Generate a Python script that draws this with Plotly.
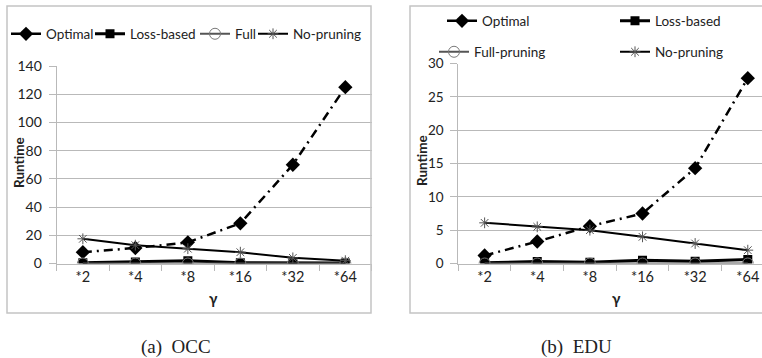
import plotly.graph_objects as go

categories = ["*2", "*4", "*8", "*16", "*32", "*64"]

occ_optimal = [8, 11, 15, 28.5, 70, 125]
occ_loss = [0.5, 1, 2, 0.5, 0.4, 0.3]
occ_full = [0, 0, 0, 0, 0, 0]
occ_nopruning = [17.5, 13, 10.5, 8, 4, 2]

edu_optimal = [1.2, 3.3, 5.6, 7.5, 14.3, 27.8]
edu_loss = [0.1, 0.3, 0.2, 0.5, 0.35, 0.6]
edu_full = [0, 0, 0, 0, 0, 0]
edu_nopruning = [6.1, 5.5, 5.0, 4.0, 3.0, 2.0]

W, H = 762, 358
FONT = "Lato"
GRID = "#b9b9b9"
TXT = "#222222"


def px(x):
    return x / W


def py(y):
    return (H - y) / H


def series_styles(full_name):
    return [
        ("Optimal", dict(color="black", width=2.5, dash="9px,5px,2px,5px"),
         dict(symbol="diamond", size=11, color="black")),
        ("Loss-based", dict(color="black", width=3),
         dict(symbol="square", size=9, color="black")),
        (full_name, dict(color="#555555", width=2),
         dict(symbol="circle-open", size=11, color="#7a7a7a", line=dict(width=1))),
        ("No-pruning", dict(color="black", width=2),
         dict(symbol="asterisk-open", size=9, color="#555555", line=dict(width=1))),
    ]


fig = go.Figure()

panels = [
    ("x", "y", "Full", [occ_optimal, occ_loss, occ_full, occ_nopruning],
     ["legend", "legend2", "legend3", "legend4"]),
    ("x2", "y2", "Full-pruning", [edu_optimal, edu_loss, edu_full, edu_nopruning],
     ["legend5", "legend6", "legend7", "legend8"]),
]
for xa, ya, full_name, series, legends in panels:
    for (name, line, marker), vals, lg in zip(series_styles(full_name), series, legends):
        fig.add_trace(go.Scatter(
            x=categories, y=vals, name=name, mode="lines+markers",
            line=line, marker=marker, xaxis=xa, yaxis=ya, legend=lg,
        ))

xcommon = dict(type="category", categoryorder="array", categoryarray=categories,
               showgrid=False, showline=True, linecolor=GRID, linewidth=1,
               ticks="outside", tickson="boundaries", ticklen=6, tickcolor=GRID,
               tickfont=dict(family=FONT, size=14.5, color=TXT), zeroline=False)
ycommon = dict(showgrid=True, gridcolor=GRID, gridwidth=1, showline=True,
               linecolor=GRID, ticks="outside", ticklen=7, tickcolor=GRID,
               zeroline=False, ticklabelstandoff=4)

# legend text start positions (px) and row centres
legend_pos = {
    "legend": (48, 34), "legend2": (132, 34), "legend3": (237, 34), "legend4": (295, 34),
    "legend5": (484, 21), "legend6": (657, 21), "legend7": (476, 52), "legend8": (657, 52),
}
legend_layout = {}
for key, (tx, ty) in legend_pos.items():
    legend_layout[key] = dict(
        orientation="h", x=px(tx - 42), y=py(ty), xanchor="left", yanchor="middle",
        font=dict(family=FONT, size=13.5, color=TXT), bgcolor="rgba(0,0,0,0)",
        itemwidth=30, borderwidth=0,
    )


def note(text, x, y, size, family=FONT, angle=0):
    return dict(text=text, x=px(x), y=py(y), xref="paper", yref="paper",
                xanchor="center", yanchor="middle", textangle=angle,
                showarrow=False, font=dict(family=family, size=size, color=TXT))


fig.update_layout(
    width=W, height=H, margin=dict(l=0, r=0, t=0, b=0, autoexpand=False),
    paper_bgcolor="white", plot_bgcolor="white",
    showlegend=True,
    xaxis=dict(domain=[px(56.6), px(371.6)], range=[-0.5, 5.5], anchor="y", **xcommon),
    yaxis=dict(domain=[py(263.5), py(66)], range=[0, 140], dtick=20, anchor="x",
               tickfont=dict(family=FONT, size=14, color=TXT), **ycommon),
    xaxis2=dict(domain=[px(458.3), 1.0], range=[-0.5, 5.27], anchor="y2", **xcommon),
    yaxis2=dict(domain=[py(263.5), py(63.5)], range=[0, 30], dtick=5, anchor="x2",
                tickfont=dict(family=FONT, size=13.5, color=TXT), **ycommon),
    shapes=[
        dict(type="rect", xref="paper", yref="paper", x0=px(7), x1=px(371),
             y0=py(313), y1=py(6), line=dict(color="#c4c4c4", width=1.5)),
        dict(type="rect", xref="paper", yref="paper", x0=px(410), x1=px(790),
             y0=py(313), y1=py(6), line=dict(color="#c4c4c4", width=1.5)),
    ],
    annotations=[
        note("<b>Runtime</b>", 19, 163, 13.5, angle=-90),
        note("<b>Runtime</b>", 422, 161, 13.5, angle=-90),
        note("<b>γ</b>", 213, 298, 15),
        note("<b>γ</b>", 616, 298, 15),
        note("(a)  OCC", 176, 347, 19, family="Liberation Serif"),
        note("(b)  EDU", 576, 347, 19, family="Liberation Serif"),
    ],
    **legend_layout,
)

fig.write_html("out.html", config={"displayModeBar": False},
               post_script="document.body.style.margin='0';document.body.style.overflow='hidden';")
